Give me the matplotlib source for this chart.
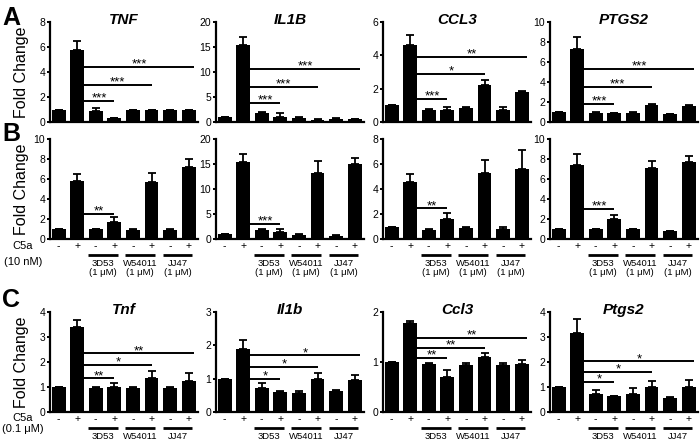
import numpy as np
import matplotlib
matplotlib.use("Agg")
import matplotlib.pyplot as plt
from matplotlib import transforms

plt.rcParams['font.family'] = ['Liberation Sans', 'DejaVu Sans']

# ---- data ----
genes_hs = ["TNF", "IL1B", "CCL3", "PTGS2"]
genes_mm = ["Tnf", "Il1b", "Ccl3", "Ptgs2"]
c5a_signs = ["-", "+", "-", "+", "-", "+", "-", "+"]
antagonists = ["3D53", "W54011", "JJ47"]
dose_label = "(1 \u03bcM)"

# row A
a_tnf = [1.0, 5.75, 0.9, 0.3, 0.95, 0.95, 0.95, 0.95]
a_tnf_err = [0, 0.7, 0.2, 0.03, 0.03, 0.03, 0.03, 0.03]
a_il1b = [1.0, 15.4, 1.8, 1.1, 0.9, 0.5, 0.7, 0.6]
a_il1b_err = [0, 1.7, 0.2, 0.8, 0.05, 0.05, 0.1, 0.05]
a_ccl3 = [1.0, 4.6, 0.75, 0.75, 0.85, 2.2, 0.75, 1.8]
a_ccl3_err = [0, 0.6, 0.05, 0.15, 0.05, 0.3, 0.15, 0.05]
a_ptgs2 = [1.0, 7.3, 0.95, 0.9, 0.95, 1.7, 0.8, 1.6]
a_ptgs2_err = [0, 1.2, 0.05, 0.05, 0.05, 0.15, 0.05, 0.1]

# row B
b_tnf = [1.0, 5.8, 1.0, 1.7, 0.95, 5.7, 0.95, 7.2]
b_tnf_err = [0, 0.7, 0.05, 0.55, 0.03, 0.95, 0.03, 0.85]
b_il1b = [1.0, 15.4, 1.8, 1.4, 0.9, 13.2, 0.7, 15.0]
b_il1b_err = [0, 1.6, 0.2, 0.6, 0.05, 2.4, 0.1, 1.3]
b_ccl3 = [1.0, 4.6, 0.75, 1.6, 0.9, 5.3, 0.8, 5.6]
b_ccl3_err = [0, 0.6, 0.05, 0.5, 0.05, 1.05, 0.15, 1.5]
b_ptgs2 = [1.0, 7.4, 1.0, 2.0, 1.0, 7.1, 0.8, 7.7]
b_ptgs2_err = [0, 1.1, 0.03, 0.4, 0.03, 0.7, 0.05, 0.6]

# row C (mouse)
c_tnf = [1.0, 3.4, 0.95, 1.02, 0.95, 1.35, 0.95, 1.25]
c_tnf_err = [0, 0.27, 0.07, 0.15, 0.05, 0.28, 0.05, 0.3]
c_il1b = [1.0, 1.9, 0.72, 0.6, 0.57, 0.99, 0.62, 0.95]
c_il1b_err = [0, 0.25, 0.15, 0.03, 0.05, 0.18, 0.04, 0.15]
c_ccl3 = [1.0, 1.78, 0.96, 0.7, 0.94, 1.1, 0.94, 0.96]
c_ccl3_err = [0, 0.05, 0.03, 0.14, 0.05, 0.08, 0.05, 0.08]
c_ptgs2 = [1.0, 3.15, 0.72, 0.63, 0.72, 0.99, 0.58, 0.99]
c_ptgs2_err = [0, 0.57, 0.15, 0.02, 0.23, 0.27, 0.03, 0.3]

# y limits / tick steps
a_ymax = [8, 20, 6, 10]
a_step = [2, 5, 2, 2]
b_ymax = [10, 20, 8, 10]
b_step = [2, 5, 2, 2]
c_ymax = [4, 3, 2, 4]
c_step = [1, 1, 1, 1]

# significance bars: heights and stars
a_sig_h = [[1.7, 3.0, 4.4], [3.9, 7.0, 10.7], [1.4, 2.9, 3.9], [1.8, 3.5, 5.3]]
a_sig_t = [["***", "***", "***"], ["***", "***", "***"], ["***", "*", "**"], ["***", "***", "***"]]
b_sig_h = [[2.5], [3.0], [2.45], [3.0]]
b_sig_t = [["**"], ["***"], ["**"], ["***"]]
c_sig_h = [[1.35, 1.88, 2.35], [1.0, 1.35, 1.7], [1.08, 1.28, 1.48], [1.2, 1.6, 2.03]]
c_sig_t = [["**", "*", "**"], ["*", "*", "*"], ["**", "**", "**"], ["*", "*", "*"]]
sig_end = [3.0, 5.0, 7.3]

# ---- layout (pixels) ----
W, H = 700, 445
col_left = [50, 216, 383, 550]
ax_w = 148
ax_h = 100
row_top = [22, 139, 312]

fig = plt.figure(figsize=(7, 4.45), dpi=100)

x = np.arange(8)
bw = 0.75


def make_panel(r, c, vals, errs, ymax, step, sig_h, sig_t, title, xlabels, dose):
    left = col_left[c]
    top = row_top[r]
    ax = fig.add_axes([left / W, 1 - (top + ax_h) / H, ax_w / W, ax_h / H])
    ax.bar(x, vals, width=bw, color="black")
    ax.errorbar(x, vals, yerr=[np.zeros(8), errs], fmt="none", ecolor="black",
                elinewidth=1.3, capsize=3, capthick=1.3)
    ax.set_xlim(-0.46, 7.5)
    ax.set_ylim(0, ymax)
    ax.set_yticks(np.arange(0, ymax + step / 2, step))
    ax.set_xticks([])
    for s in ["top", "right"]:
        ax.spines[s].set_visible(False)
    for s in ["left", "bottom"]:
        ax.spines[s].set_linewidth(1.6)
    ax.tick_params(axis="y", length=2.5, width=1.4, pad=1, labelsize=7.5)

    for h, t, e in zip(sig_h, sig_t, sig_end):
        ax.plot([1.375, e], [h, h], color="black", lw=1.4, solid_capstyle="butt")
        ax.annotate(t, xy=((1.375 + e) / 2, h), xytext=(0, -0.5),
                    textcoords="offset points", ha="center", va="baseline",
                    fontsize=9.5)

    if title:
        ax.text(0.5, 0.98, title, transform=ax.transAxes, ha="center",
                va="baseline", fontsize=11, fontweight="bold", fontstyle="italic")

    if xlabels:
        tr = transforms.blended_transform_factory(ax.transData, ax.transAxes)
        for xi, s in zip(x, c5a_signs):
            ax.text(xi, -0.07, s, transform=tr, ha="center", va="center", fontsize=7.5)
        for k, name in enumerate(antagonists):
            s0 = 2 + 2 * k
            ax.plot([s0 - 0.4, s0 + 1.2], [-0.155, -0.155], transform=tr,
                    color="black", lw=2, clip_on=False, solid_capstyle="butt")
            ax.text(s0 + 0.4, -0.245, name, transform=tr, ha="center",
                    va="center", fontsize=6.8)
            if dose:
                ax.text(s0 + 0.4, -0.335, dose_label, transform=tr, ha="center",
                        va="center", fontsize=6.8)
    return ax


rows = [
    ([a_tnf, a_il1b, a_ccl3, a_ptgs2], [a_tnf_err, a_il1b_err, a_ccl3_err, a_ptgs2_err],
     a_ymax, a_step, a_sig_h, a_sig_t, genes_hs, False, False),
    ([b_tnf, b_il1b, b_ccl3, b_ptgs2], [b_tnf_err, b_il1b_err, b_ccl3_err, b_ptgs2_err],
     b_ymax, b_step, b_sig_h, b_sig_t, [None] * 4, True, True),
    ([c_tnf, c_il1b, c_ccl3, c_ptgs2], [c_tnf_err, c_il1b_err, c_ccl3_err, c_ptgs2_err],
     c_ymax, c_step, c_sig_h, c_sig_t, genes_mm, True, False),
]

for r, (vals, errs, ymaxs, steps, sh, st, titles, xl, dose) in enumerate(rows):
    for c in range(4):
        make_panel(r, c, vals[c], errs[c], ymaxs[c], steps[c], sh[c], st[c],
                   titles[c], xl, dose)
    # y label
    fig.text(22 / W, 1 - (row_top[r] + ax_h / 2) / H, "Fold Change", rotation=90,
             ha="center", va="center", fontsize=11.5)

# panel letters
fig.text(2 / W, 1 - 25 / H, "A", fontsize=18, fontweight="bold", va="baseline")
fig.text(2 / W, 1 - 141 / H, "B", fontsize=18, fontweight="bold", va="baseline")
fig.text(2 / W, 1 - 307 / H, "C", fontsize=18, fontweight="bold", va="baseline")

# C5a labels
fig.text(23 / W, 1 - 246 / H, "C5a", ha="center", va="center", fontsize=8)
fig.text(23 / W, 1 - 262 / H, "(10 nM)", ha="center", va="center", fontsize=8)
fig.text(23 / W, 1 - 418 / H, "C5a", ha="center", va="center", fontsize=8)
fig.text(23 / W, 1 - 429 / H, "(0.1 \u03bcM)", ha="center", va="center", fontsize=8)

fig.savefig("out.png", dpi=100)
